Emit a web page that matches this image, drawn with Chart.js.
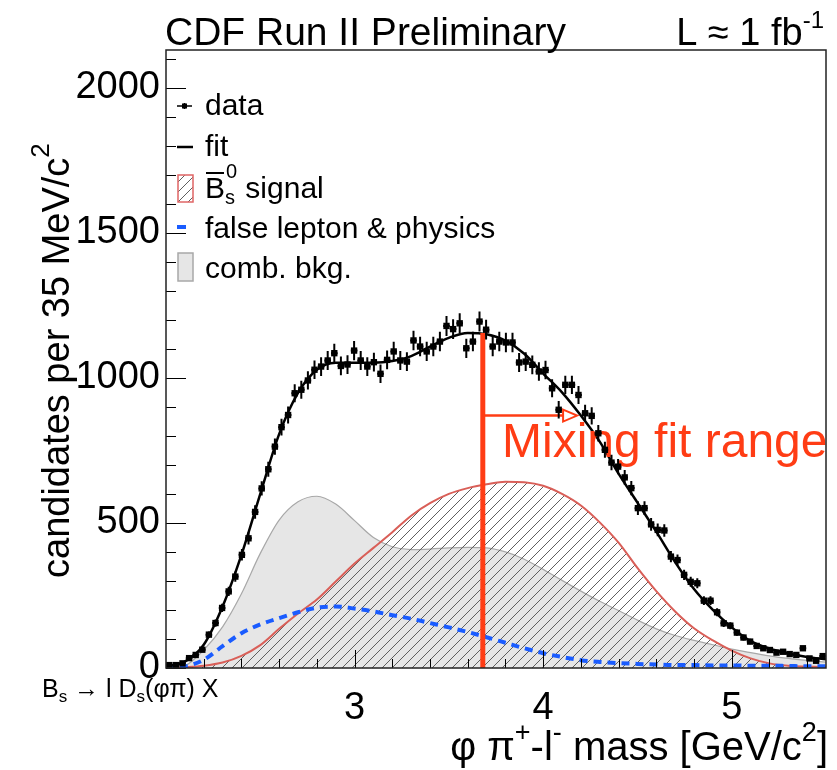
<!DOCTYPE html>
<html>
<head>
<meta charset="utf-8">
<title>phi pi l mass</title>
<script src="https://cdn.jsdelivr.net/npm/chart.js@4.4.0/dist/chart.umd.min.js"></script>
<style>
  html, body { margin: 0; padding: 0; background: #fff; }
</style>
</head>
<body>
<canvas id="massChart" width="837" height="770"></canvas>
<script>
// 100 bins of 35 MeV from 2.0 to 5.5 GeV/c^2
const BIN_LO = 2.0;
const BIN_W = 0.035;
const counts = [
  10, 10, 16, 34, 45, 63, 115, 155, 207, 264,
  315, 390, 447, 538, 619, 685, 763, 830, 872, 947,
  959, 991, 1028, 1039, 1060, 1085, 1041, 1046, 1094, 1060,
  1039, 1054, 1014, 1062, 1091, 1060, 1056, 1129, 1108, 1091,
  1108, 1125, 1179, 1168, 1188, 1102, 1125, 1194, 1166, 1108,
  1125, 1122, 1122, 1053, 1056, 1045, 1022, 1027, 964, 890,
  976, 976, 941, 878, 869, 809, 752, 708, 694, 657,
  620, 551, 551, 495, 476, 474, 384, 372, 321, 297,
  292, 232, 232, 192, 154, 146, 122, 105, 91, 76,
  68, 62, 53, 56, 48, 45, 68, 33, 25, 41
];

// fit components sampled every 100 MeV
const gridMass = [2.0, 2.1, 2.2, 2.3, 2.4, 2.5, 2.6, 2.7, 2.8, 2.9, 3.0, 3.1, 3.2, 3.3, 3.4, 3.5, 3.6, 3.7,
  3.8, 3.9, 4.0, 4.1, 4.2, 4.3, 4.4, 4.5, 4.6, 4.7, 4.8, 4.9, 5.0, 5.1, 5.2, 5.3, 5.4, 5.5];
const fitTotal = [5, 22, 80, 212, 390, 600, 806, 948, 1028, 1052, 1052, 1052, 1058, 1075, 1108, 1138, 1155, 1150,
  1128, 1083, 1015, 950, 870, 780, 670, 570, 470, 365, 272, 200, 140, 93, 67, 50, 38, 30];
const bsSignal = [0, 3, 8, 19, 42, 79, 135, 188, 236, 298, 360, 414, 468, 525, 568, 600, 620, 633,
  642, 640, 628, 600, 560, 502, 432, 345, 265, 195, 137, 95, 60, 33, 16, 8, 5, 3];
const falseLepton = [0, 5, 28, 75, 120, 150, 172, 192, 208, 212, 205, 195, 182, 170, 155, 140, 124, 106,
  87, 68, 51, 38, 27, 21, 17, 14, 12, 10, 10, 9, 9, 8, 8, 7, 6, 6];
const combBkg = [0, 8, 62, 142, 256, 395, 510, 573, 592, 565, 508, 450, 418, 408, 410, 414, 416, 414,
  400, 375, 340, 302, 265, 230, 198, 165, 135, 112, 95, 80, 65, 53, 42, 33, 26, 20];

const yTicks = [0, 500, 1000, 1500, 2000];
const xTicks = [3, 4, 5];

// mixing fit range marker
const fitRangeStart = 3.68;
const fitRangeTop = 1155;
const arrowLevel = 870;
const arrowEnd = 4.18;

const FONT = '"Liberation Sans", Arial, Helvetica, sans-serif';
const ORANGE = '#ff3c14';
Chart.defaults.font.family = FONT;
Chart.defaults.color = '#000';

const binCentres = counts.map((_, i) => +(BIN_LO + (i + 0.5) * BIN_W).toFixed(4));
const curve = vals => gridMass.map((m, i) => ({ x: m, y: vals[i] }));

function makeHatch() {
  const c = document.createElement('canvas');
  c.width = 10; c.height = 10;
  const g = c.getContext('2d');
  g.strokeStyle = '#5e5e5e';
  g.lineWidth = 1;
  g.beginPath();
  g.moveTo(0, 10); g.lineTo(10, 0);
  g.moveTo(-5, 5); g.lineTo(5, -5);
  g.moveTo(5, 15); g.lineTo(15, 5);
  g.stroke();
  return g.createPattern(c, 'repeat');
}
const hatch = makeHatch();

// text with super/subscripts: parts = [[text, size, dy], ...]
function runWidth(ctx, parts) {
  let w = 0;
  parts.forEach(p => { ctx.font = p[1] + 'px ' + FONT; w += ctx.measureText(p[0]).width; });
  return w;
}
function drawRun(ctx, parts, x, y, align) {
  let cx = align === 'right' ? x - runWidth(ctx, parts) : x;
  ctx.textAlign = 'left';
  ctx.textBaseline = 'alphabetic';
  parts.forEach(p => {
    ctx.font = p[1] + 'px ' + FONT;
    ctx.fillText(p[0], cx, y + (p[2] || 0));
    cx += ctx.measureText(p[0]).width;
  });
}

const overlay = {
  id: 'overlay',
  beforeDatasetDraw(chart, args) {
    if (args.index !== 0) return;
    const { ctx, chartArea: a, scales: { x, y } } = chart;
    ctx.save();
    ctx.beginPath();
    ctx.rect(a.left, a.top, a.width, a.height);
    ctx.clip();
    ctx.strokeStyle = '#000';
    ctx.lineWidth = 2;
    counts.forEach((n, i) => {
      const m = binCentres[i];
      const px = x.getPixelForValue(m);
      const err = Math.sqrt(n);
      ctx.beginPath();
      ctx.moveTo(px, y.getPixelForValue(Math.max(0, n - err)));
      ctx.lineTo(px, y.getPixelForValue(n + err));
      ctx.moveTo(x.getPixelForValue(m - BIN_W / 2), y.getPixelForValue(n));
      ctx.lineTo(x.getPixelForValue(m + BIN_W / 2), y.getPixelForValue(n));
      ctx.stroke();
    });
    ctx.restore();
  },
  afterDatasetDraw(chart, args) {
    if (args.index !== 1) return;
    const { ctx, scales: { x, y } } = chart;
    const x0 = x.getPixelForValue(fitRangeStart);
    const x1 = x.getPixelForValue(arrowEnd);
    const ya = y.getPixelForValue(arrowLevel);
    ctx.save();
    ctx.strokeStyle = ORANGE;
    ctx.lineWidth = 5;
    ctx.beginPath();
    ctx.moveTo(x0, y.getPixelForValue(0));
    ctx.lineTo(x0, y.getPixelForValue(fitRangeTop));
    ctx.stroke();
    ctx.lineWidth = 2.5;
    ctx.beginPath();
    ctx.moveTo(x0, ya);
    ctx.lineTo(x1 - 14, ya);
    ctx.stroke();
    ctx.beginPath();
    ctx.moveTo(x1 - 14, ya - 6);
    ctx.lineTo(x1, ya);
    ctx.lineTo(x1 - 14, ya + 6);
    ctx.closePath();
    ctx.fillStyle = '#fff';
    ctx.fill();
    ctx.lineWidth = 2;
    ctx.stroke();
    ctx.fillStyle = ORANGE;
    drawRun(ctx, [['Mixing fit range', 48]], 502, 457);
    ctx.restore();
  },
  afterDraw(chart) {
    const { ctx, chartArea: a, scales: { x, y } } = chart;
    ctx.save();
    // inner tick marks
    ctx.strokeStyle = '#000';
    ctx.lineWidth = 1;
    ctx.beginPath();
    for (let v = 0; v <= 2100; v += 100) {
      const py = Math.round(y.getPixelForValue(v)) + 0.5;
      ctx.moveTo(a.left, py);
      ctx.lineTo(a.left + (v % 500 === 0 ? 20 : 10), py);
    }
    for (let k = 11; k <= 27; k++) {
      const px = Math.round(x.getPixelForValue(k / 5)) + 0.5;
      ctx.moveTo(px, a.bottom);
      ctx.lineTo(px, a.bottom - (k % 5 === 0 ? 18 : 9));
    }
    ctx.stroke();
    // frame
    ctx.strokeStyle = '#222';
    ctx.lineWidth = 1.5;
    ctx.strokeRect(a.left, a.top, a.width, a.height);

    // titles
    ctx.fillStyle = '#000';
    drawRun(ctx, [['CDF Run II Preliminary', 39]], 165, 45);
    drawRun(ctx, [['L \u2248 1 fb', 38], ['-1', 24, -17]], 824, 45, 'right');
    drawRun(ctx, [['\u03c6 \u03c0', 40], ['+', 27, -19], ['-l', 40], ['-', 27, -19],
      [' mass [GeV/c', 40], ['2', 27, -19], [']', 40]], 828, 760, 'right');
    drawRun(ctx, [['B', 25], ['s', 17, 5], [' \u2192 l D', 25], ['s', 17, 5], ['(\u03c6\u03c0) X', 25]], 42, 697);
    ctx.save();
    ctx.translate(69, 578);
    ctx.rotate(-Math.PI / 2);
    drawRun(ctx, [['candidates per 35 MeV/c', 38], ['2', 26, -20]], 0, 0);
    ctx.restore();

    // legend
    const lx = 205;
    ctx.lineWidth = 1.6;
    ctx.strokeStyle = '#000';
    ctx.beginPath();
    ctx.moveTo(177, 106); ctx.lineTo(192, 106);
    ctx.moveTo(184.5, 103); ctx.lineTo(184.5, 109);
    ctx.stroke();
    ctx.fillRect(182, 103.5, 5, 5);
    ctx.lineWidth = 2.5;
    ctx.beginPath();
    ctx.moveTo(177, 147); ctx.lineTo(193, 147);
    ctx.stroke();
    ctx.fillStyle = hatch;
    ctx.fillRect(178, 175, 15, 27);
    ctx.strokeStyle = '#e06666';
    ctx.lineWidth = 1.5;
    ctx.strokeRect(178, 175, 15, 27);
    ctx.strokeStyle = '#1a5cff';
    ctx.lineWidth = 4;
    ctx.beginPath();
    ctx.moveTo(177, 227); ctx.lineTo(186, 227);
    ctx.stroke();
    ctx.fillStyle = '#e6e6e6';
    ctx.fillRect(178, 253, 15, 28);
    ctx.strokeStyle = '#a8a8a8';
    ctx.lineWidth = 1.5;
    ctx.strokeRect(178, 253, 15, 28);

    ctx.fillStyle = '#000';
    drawRun(ctx, [['data', 30]], lx, 115);
    drawRun(ctx, [['fit', 30]], lx, 156);
    drawRun(ctx, [['B', 30], ['s', 20, 6]], lx, 198);
    ctx.font = '30px ' + FONT;
    const bw = ctx.measureText('B').width;
    ctx.lineWidth = 2;
    ctx.strokeStyle = '#000';
    ctx.beginPath();
    ctx.moveTo(lx + 1, 173); ctx.lineTo(lx + bw - 1, 173);
    ctx.stroke();
    drawRun(ctx, [['0', 20]], lx + bw + 1, 178);
    drawRun(ctx, [[' signal', 30]], lx + bw + 12, 198);
    drawRun(ctx, [['false lepton & physics', 30]], lx, 238);
    drawRun(ctx, [['comb. bkg.', 30]], lx, 278);
    ctx.restore();
  }
};

new Chart(document.getElementById('massChart'), {
  type: 'line',
  data: {
    datasets: [
      {
        label: 'data',
        data: counts.map((n, i) => ({ x: binCentres[i], y: n })),
        showLine: false,
        pointStyle: 'rect',
        pointRadius: 4.5,
        pointBackgroundColor: '#000',
        pointBorderColor: '#000',
        pointBorderWidth: 0
      },
      {
        label: 'fit',
        data: curve(fitTotal),
        borderColor: '#000',
        borderWidth: 2.5,
        pointRadius: 0,
        cubicInterpolationMode: 'monotone',
        fill: false
      },
      {
        label: 'false lepton & physics',
        data: curve(falseLepton),
        borderColor: '#1a5cff',
        borderWidth: 4,
        borderDash: [8, 6],
        pointRadius: 0,
        cubicInterpolationMode: 'monotone',
        fill: false
      },
      {
        label: 'Bs signal',
        data: curve(bsSignal),
        borderColor: '#d95f58',
        borderWidth: 2,
        backgroundColor: hatch,
        pointRadius: 0,
        cubicInterpolationMode: 'monotone',
        fill: 'origin'
      },
      {
        label: 'comb. bkg.',
        data: curve(combBkg),
        borderColor: '#a8a8a8',
        borderWidth: 1.2,
        backgroundColor: '#e6e6e6',
        pointRadius: 0,
        cubicInterpolationMode: 'monotone',
        fill: 'origin'
      }
    ]
  },
  options: {
    responsive: false,
    animation: false,
    events: [],
    layout: { padding: { top: 50, right: 11, left: 0, bottom: 0 } },
    plugins: { legend: { display: false }, tooltip: { enabled: false } },
    scales: {
      x: {
        type: 'linear',
        min: 2.0,
        max: 5.5,
        afterFit: s => { s.height = 102; },
        afterBuildTicks: s => { s.ticks = xTicks.map(v => ({ value: v })); },
        grid: { display: false, drawTicks: false },
        border: { display: false },
        ticks: {
          autoSkip: false,
          padding: 18,
          maxRotation: 0,
          font: { size: 38 },
          callback: v => String(v)
        }
      },
      y: {
        type: 'linear',
        min: 0,
        max: 2130,
        afterFit: s => { s.width = 166; },
        afterBuildTicks: s => { s.ticks = yTicks.map(v => ({ value: v })); },
        grid: { display: false, drawTicks: false },
        border: { display: false },
        ticks: {
          autoSkip: false,
          padding: 6,
          font: { size: 38 },
          callback: v => String(v)
        }
      }
    }
  },
  plugins: [overlay]
});
</script>
</body>
</html>
